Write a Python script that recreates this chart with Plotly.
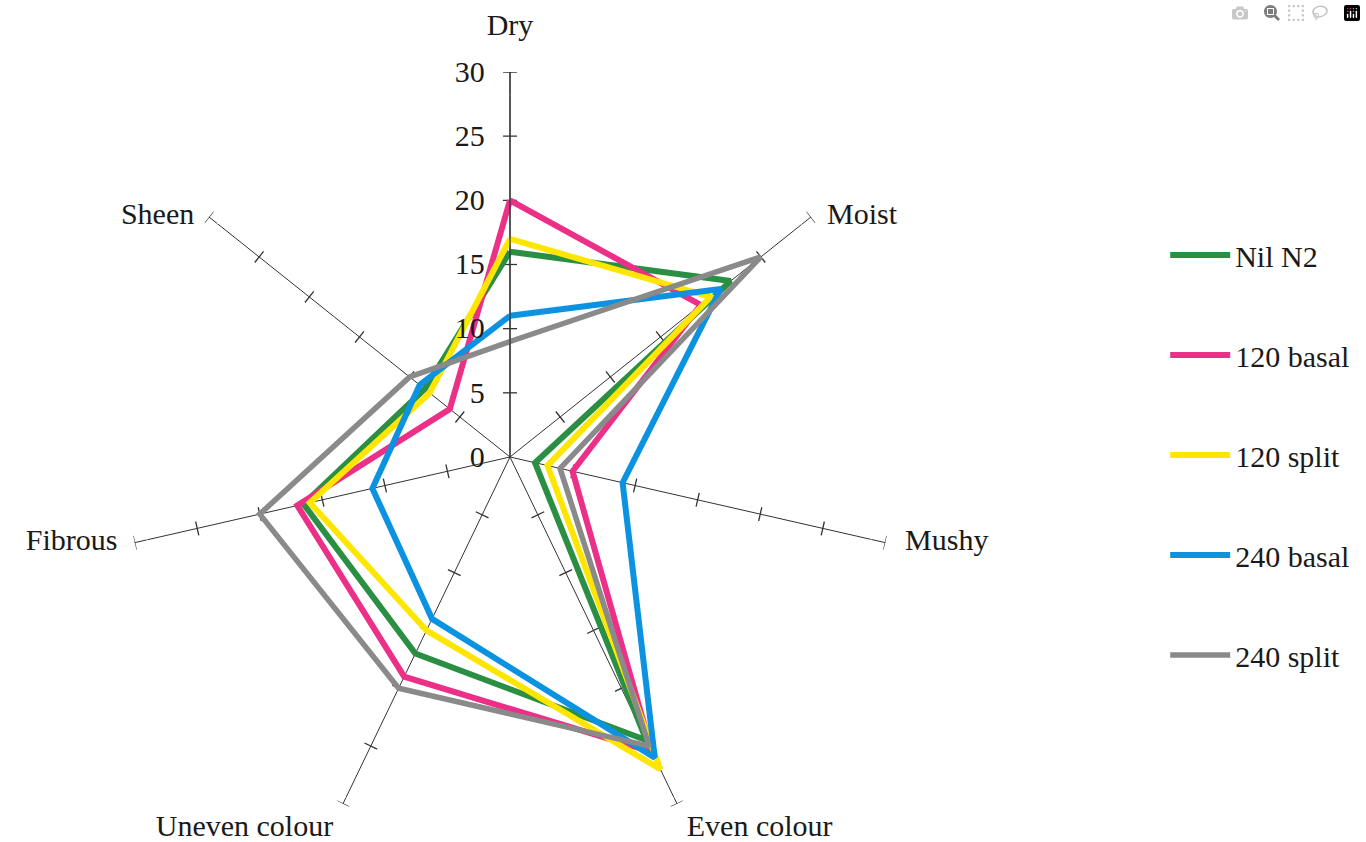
import math
import plotly.graph_objects as go

# ---- data ----
categories = ["Dry", "Moist", "Mushy", "Even colour", "Uneven colour", "Fibrous", "Sheen"]
series_names = ["Nil N2", "120 basal", "120 split", "240 basal", "240 split"]
nil_n2 = [16, 22, 2, 24.5, 17, 16.5, 8.5]
basal_120 = [20, 19, 5, 25.5, 19, 17, 6]
split_120 = [17, 20, 3, 27, 15, 16, 8]
basal_240 = [11, 21, 9, 26, 14, 11, 9]
split_240 = [9, 25, 4, 25, 20, 20, 10]
tick_values = [0, 5, 10, 15, 20, 25, 30]

series_values = [nil_n2, basal_120, split_120, basal_240, split_240]
colors = ["#2a8f42", "#ec2f87", "#ffe600", "#0b93e2", "#8a8a8a"]
widths = [6, 6, 6, 6, 5.5]

n = len(categories)
angles = [i * 360.0 / n for i in range(n)]
rmax = tick_values[-1]

fig = go.Figure()

# tick marks across every spoke (computed from tick values)
half = 0.55
tr, tt = [], []
for a in angles:
    for v in tick_values[1:]:
        rr = math.sqrt(v * v + half * half)
        da = math.degrees(math.atan(half / v))
        tr += [rr, rr, None]
        tt += [a - da, a + da, None]
fig.add_trace(go.Scatterpolar(r=tr, theta=tt, mode="lines",
                              line=dict(color="#333333", width=1.3),
                              showlegend=False, hoverinfo="skip"))

for name, vals, c, w in zip(series_names, series_values, colors, widths):
    fig.add_trace(go.Scatterpolar(
        r=vals + vals[:1], theta=angles + angles[:1], mode="lines",
        name=name, legendgroup=name,
        line=dict(color=c, width=w),
    ))

# category labels at the end of each spoke
label_pos = ["top center", "middle right", "middle right", "bottom right",
             "bottom left", "middle left", "middle left"]
label_pad = [46, 24, 30, 14, 14, 26, 22]
fig.add_trace(go.Scatterpolar(
    r=[rmax] * n, theta=angles, mode="markers+text", text=categories,
    textposition=label_pos, cliponaxis=False,
    marker=dict(size=label_pad, color="rgba(0,0,0,0)"),
    textfont=dict(size=30, family="Liberation Serif", color="#1a1a1a"),
    showlegend=False, hoverinfo="skip",
))

fig.update_layout(
    width=1366, height=842,
    margin=dict(l=0, r=0, t=0, b=0),
    paper_bgcolor="white",
    font=dict(family="Liberation Serif", size=30, color="#1a1a1a"),
    polar=dict(
        domain=dict(x=[0.0915, 0.6552], y=[0.0, 0.9145]),
        bgcolor="white",
        angularaxis=dict(
            direction="clockwise", rotation=90, thetaunit="degrees",
            tickmode="array", tickvals=angles, ticktext=categories,
            showgrid=True, gridcolor="#333333", gridwidth=1.3,
            showline=False, ticks="", showticklabels=False,
        ),
        radialaxis=dict(
            range=[0, rmax], angle=90, tickmode="array", tickvals=tick_values,
            showgrid=False, showline=True, linecolor="#333333", linewidth=1.3,
            ticks="outside", ticklen=14, tickcolor="rgba(0,0,0,0)",
            side="counterclockwise", tickangle=90,
            tickfont=dict(size=30),
        ),
    ),
    legend=dict(
        x=0.853, xanchor="left", y=0.728, yanchor="top",
        tracegroupgap=58, bgcolor="rgba(0,0,0,0)", itemwidth=60,
        font=dict(size=30),
    ),
)

fig.write_html("out.html", post_script="document.body.style.margin='0';document.body.style.overflow='hidden';")
